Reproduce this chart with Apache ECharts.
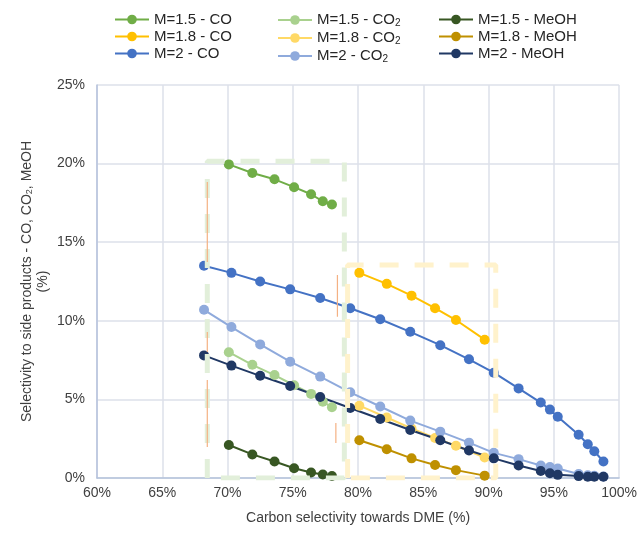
<!DOCTYPE html>
<html>
<head>
<meta charset="utf-8">
<script src="https://cdn.jsdelivr.net/npm/echarts@6/dist/echarts.min.js"></script>
<style>
  html, body { margin: 0; padding: 0; background: #fff; }
  #chart { width: 640px; height: 536px; }
</style>
</head>
<body>
<div id="chart"></div>
<script>
// carbon selectivity towards DME (%)
const xM15 = [70.1, 71.9, 73.6, 75.1, 76.4, 77.3, 78.0];
const xM18 = [80.1, 82.2, 84.1, 85.9, 87.5, 89.7];
const xM2 = [68.2, 70.3, 72.5, 74.8, 77.1, 79.4, 81.7, 84.0, 86.3, 88.5, 90.4, 92.3, 94.0, 94.7, 95.3, 96.9, 97.6, 98.1, 98.8];

// side product selectivity (%)
const coM15 = [19.95, 19.4, 19.0, 18.5, 18.05, 17.6, 17.4];
const co2M15 = [8.0, 7.2, 6.55, 5.9, 5.35, 4.85, 4.5];
const meohM15 = [2.1, 1.5, 1.05, 0.62, 0.35, 0.22, 0.13];

const coM18 = [13.05, 12.35, 11.6, 10.8, 10.05, 8.8];
const co2M18 = [4.6, 3.85, 3.15, 2.55, 2.05, 1.3];
const meohM18 = [2.4, 1.83, 1.25, 0.83, 0.5, 0.15];

const coM2 = [13.5, 13.05, 12.5, 12.0, 11.45, 10.8, 10.1, 9.3, 8.45, 7.55, 6.7, 5.7, 4.8, 4.35, 3.9, 2.75, 2.15, 1.7, 1.05];
const co2M2 = [10.7, 9.6, 8.5, 7.4, 6.45, 5.45, 4.55, 3.65, 2.95, 2.25, 1.6, 1.2, 0.8, 0.7, 0.6, 0.25, 0.18, 0.14, 0.1];
const meohM2 = [7.8, 7.15, 6.5, 5.85, 5.15, 4.45, 3.75, 3.05, 2.4, 1.75, 1.25, 0.8, 0.45, 0.3, 0.2, 0.12, 0.08, 0.08, 0.08];

// highlighted regions [xFrom, xTo, yTop]
const boxM15 = [68.45, 78.95, 20.15];
const boxM18 = [79.2, 90.55, 13.55];

// stray thin marker strokes [x, yFrom, yTo]
const strokes = [
  [68.45, 13.74, 18.83],
  [68.45, 8.02, 9.29],
  [68.45, 1.97, 6.23],
  [78.42, 10.26, 12.91],
  [78.3, 2.23, 3.5]
];

const textColor = "#404040";
const font = "Liberation Sans, Arial, sans-serif";

function pairs(xs, ys) {
  return xs.map((x, i) => [x, ys[i]]);
}

function lineSeries(name, xs, ys, color) {
  return {
    name,
    type: "line",
    data: pairs(xs, ys),
    symbol: "circle",
    symbolSize: 10,
    lineStyle: { color, width: 2 },
    itemStyle: { color },
    z: 3
  };
}

function boxSeries(box, color) {
  const [x0, x1, top] = box;
  return {
    type: "line",
    data: [[x0, 0], [x0, top], [x1, top], [x1, 0], [x0, 0]],
    showSymbol: false,
    silent: true,
    itemStyle: { color },
    lineStyle: { color, width: 5, type: [19, 16] },
    z: 5
  };
}

const series = [
  lineSeries("M=1.5 - CO", xM15, coM15, "#70ad47"),
  lineSeries("M=1.5 - CO2", xM15, co2M15, "#a9d18e"),
  lineSeries("M=1.5 - MeOH", xM15, meohM15, "#385723"),
  lineSeries("M=1.8 - CO", xM18, coM18, "#ffc000"),
  lineSeries("M=1.8 - CO2", xM18, co2M18, "#ffd966"),
  lineSeries("M=1.8 - MeOH", xM18, meohM18, "#bf9000"),
  lineSeries("M=2 - CO", xM2, coM2, "#4472c4"),
  lineSeries("M=2 - CO2", xM2, co2M2, "#8faadc"),
  lineSeries("M=2 - MeOH", xM2, meohM2, "#203864"),
  boxSeries(boxM15, "#e2efda"),
  boxSeries(boxM18, "#fff2cc"),
  ...strokes.map(([x, y0, y1]) => ({
    type: "line",
    data: [[x, y0], [x, y1]],
    showSymbol: false,
    silent: true,
    itemStyle: { color: "#f4b183" },
    lineStyle: { color: "#f4b183", width: 1.2 },
    z: 6
  }))
];

function legendCol(left, names) {
  return {
    left,
    top: 7,
    orient: "vertical",
    data: names,
    itemWidth: 34,
    itemHeight: 12,
    itemGap: 2,
    formatter: (n) => n.replace("CO2", "CO{sub|2}"),
    textStyle: {
      color: "#262626",
      fontSize: 15,
      fontFamily: font,
      lineHeight: 15,
      rich: {
        sub: { fontSize: 10, padding: [6, 0, 0, 0], lineHeight: 15 }
      }
    }
  };
}

const chart = echarts.init(document.getElementById("chart"));
chart.setOption({
  animation: false,
  backgroundColor: "#fff",
  grid: { left: 97, right: 19, top: 85, bottom: 58 },
  legend: [
    legendCol(109, ["M=1.5 - CO", "M=1.8 - CO", "M=2 - CO"]),
    legendCol(272, ["M=1.5 - CO2", "M=1.8 - CO2", "M=2 - CO2"]),
    legendCol(433, ["M=1.5 - MeOH", "M=1.8 - MeOH", "M=2 - MeOH"])
  ],
  xAxis: {
    type: "value",
    min: 60,
    max: 100,
    interval: 5,
    name: "Carbon selectivity towards DME (%)",
    nameLocation: "middle",
    nameGap: 33,
    nameMoveOverlap: false,
    nameTextStyle: { color: textColor, fontSize: 14, fontFamily: font },
    axisLine: { lineStyle: { color: "#b4c2dc", width: 1.5 } },
    axisTick: { show: false },
    axisLabel: {
      color: textColor,
      fontSize: 14,
      margin: 8,
      fontFamily: font,
      formatter: (v) => v + "%"
    },
    splitLine: { show: true, lineStyle: { color: "#dde1ea", width: 1.5 } }
  },
  yAxis: {
    type: "value",
    min: 0,
    max: 25,
    interval: 5,
    name: "Selectivity to side products - CO, CO{sub|2}, MeOH\n(%)",
    nameLocation: "middle",
    nameGap: 46,
    nameMoveOverlap: false,
    nameTextStyle: {
      color: textColor,
      fontSize: 14,
      lineHeight: 16,
      fontFamily: font,
      rich: { sub: { fontSize: 9, padding: [6, 0, 0, 0], lineHeight: 16 } }
    },
    axisLine: { show: true, lineStyle: { color: "#b4c2dc", width: 1.5 } },
    axisTick: { show: false },
    axisLabel: {
      color: textColor,
      fontSize: 14,
      margin: 12,
      fontFamily: font,
      formatter: (v) => v + "%"
    },
    splitLine: { lineStyle: { color: "#dde1ea", width: 1.5 } }
  },
  series
});
</script>
</body>
</html>
